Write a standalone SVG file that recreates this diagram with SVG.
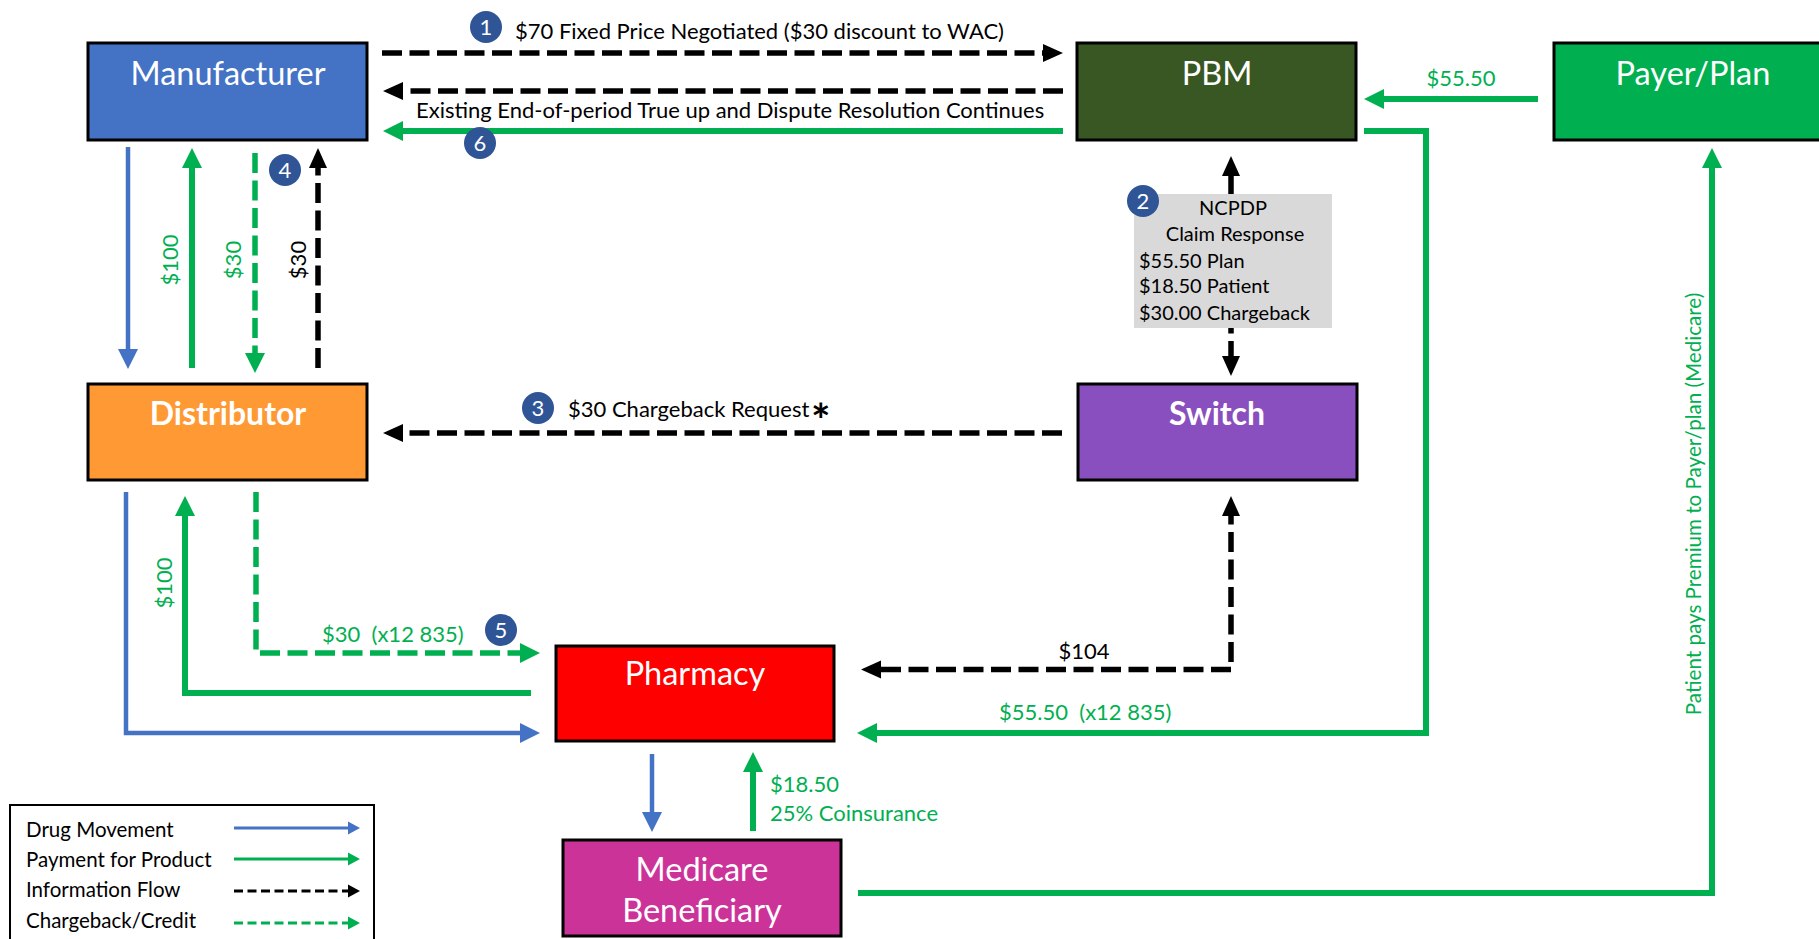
<svg xmlns="http://www.w3.org/2000/svg" width="1819" height="939" viewBox="0 0 1819 939">
<style>
text{font-family:Lato,"Liberation Sans",sans-serif}
.box{stroke:#000;stroke-width:3}
.bl{fill:#fff;font-size:32.5px;text-anchor:middle}
.blb{fill:#fff;font-size:32px;font-weight:bold;text-anchor:middle}
.lbl{font-size:22px;fill:#000}
.glbl{font-size:22px;fill:#00B050}
.gb{font-size:20px;fill:#000}
.lg{font-size:20.5px;fill:#000}
.bn{fill:#fff;font-size:22px;text-anchor:middle}
.badge{fill:#2F5597}
.k{fill:none;stroke:#000;stroke-width:5.5;stroke-dasharray:20 7.5;marker-end:url(#ahK)}
.g{fill:none;stroke:#00B050;stroke-width:6;marker-end:url(#ahG)}
.gd{fill:none;stroke:#00B050;stroke-width:5.5;stroke-dasharray:20 7.5;marker-end:url(#ahG)}
.b{fill:none;stroke:#4472C4;stroke-width:4.5;marker-end:url(#ahB)}
</style>
<defs>
<marker id="ahK" markerUnits="userSpaceOnUse" markerWidth="20" markerHeight="18" refX="0" refY="9" orient="auto-start-reverse" overflow="visible"><path d="M0,0 L20,9 L0,18 Z" fill="#000"/></marker>
<marker id="ahG" markerUnits="userSpaceOnUse" markerWidth="20" markerHeight="20" refX="0" refY="10" orient="auto" overflow="visible"><path d="M0,0 L20,10 L0,20 Z" fill="#00B050"/></marker>
<marker id="ahB" markerUnits="userSpaceOnUse" markerWidth="20" markerHeight="20" refX="0" refY="10" orient="auto" overflow="visible"><path d="M0,0 L20,10 L0,20 Z" fill="#4472C4"/></marker>
<marker id="lB" markerUnits="userSpaceOnUse" markerWidth="12" markerHeight="13" refX="0" refY="6.5" orient="auto" overflow="visible"><path d="M0,0 L12,6.5 L0,13 Z" fill="#4472C4"/></marker>
<marker id="lG" markerUnits="userSpaceOnUse" markerWidth="12" markerHeight="13" refX="0" refY="6.5" orient="auto" overflow="visible"><path d="M0,0 L12,6.5 L0,13 Z" fill="#00B050"/></marker>
<marker id="lK" markerUnits="userSpaceOnUse" markerWidth="12" markerHeight="13" refX="0" refY="6.5" orient="auto" overflow="visible"><path d="M0,0 L12,6.5 L0,13 Z" fill="#000"/></marker>
</defs>
<rect width="1819" height="939" fill="#fff"/>

<g id="connectors">
<path class="k" d="M382,53 H1043"/>
<path class="k" d="M1063,91 H403"/>
<path class="g" d="M1063,131 H403"/>
<path class="g" d="M1538,99 H1384"/>
<path class="g" d="M1364,131 H1426 V733 H877"/>
<path class="g" d="M858,893 H1712 V168"/>
<path class="k" d="M1231,176 V356" style="marker-start:url(#ahK)"/>
<path class="k" d="M1062,433 H403"/>
<path class="k" d="M881,669.5 H1231 V516" style="marker-start:url(#ahK)"/>
<path class="b" d="M128,147 V349"/>
<path class="g" d="M192,368 V168"/>
<path class="gd" d="M255,153 V353"/>
<path class="k" d="M318,368 V168"/>
<path class="b" d="M126,492 V733 H520"/>
<path class="g" d="M531,693 H185 V516"/>
<path class="gd" d="M256,492 V653 H520"/>
<path class="b" d="M652,754 V812"/>
<path class="g" d="M753,831 V772"/>
</g>

<g id="manufacturer">
<rect class="box" x="88" y="43" width="279" height="97" fill="#4472C4"/>
<text class="bl" x="228" y="85">Manufacturer</text>
</g>
<g id="pbm">
<rect class="box" x="1077" y="43" width="279" height="97" fill="#385723"/>
<text class="bl" x="1217" y="85">PBM</text>
</g>
<g id="payer">
<rect class="box" x="1554" y="43" width="279" height="97" fill="#00B050"/>
<text class="bl" x="1693" y="85">Payer/Plan</text>
</g>
<g id="distributor">
<rect class="box" x="88" y="384" width="279" height="96" fill="#FF9933"/>
<text class="blb" x="228" y="425">Distributor</text>
</g>
<g id="switch">
<rect class="box" x="1078" y="384" width="279" height="96" fill="#8A4FBE"/>
<text class="blb" x="1217" y="425">Switch</text>
</g>
<g id="pharmacy">
<rect class="box" x="556" y="646" width="278" height="95" fill="#FF0000"/>
<text class="bl" x="695" y="685">Pharmacy</text>
</g>
<g id="beneficiary">
<rect class="box" x="563" y="840" width="278" height="96" fill="#CC3399"/>
<text class="bl" x="702" y="881">Medicare</text>
<text class="bl" x="702" y="922">Beneficiary</text>
</g>
<g id="claim-response">
<rect x="1134" y="194" width="198" height="134" fill="#D9D9D9"/>
<text class="gb" x="1233" y="215" text-anchor="middle">NCPDP</text>
<text class="gb" x="1235" y="241" text-anchor="middle">Claim Response</text>
<text class="gb" x="1139" y="268">$55.50 Plan</text>
<text class="gb" x="1139" y="293">$18.50 Patient</text>
<text class="gb" x="1139" y="320">$30.00 Chargeback</text>
</g>

<g id="labels">
<text class="lbl" x="515" y="39">$70 Fixed Price Negotiated ($30 discount to WAC)</text>
<text class="lbl" x="416" y="118">Existing End-of-period True up and Dispute Resolution Continues</text>
<text class="glbl" x="1461" y="86" text-anchor="middle">$55.50</text>
<text class="glbl" x="999" y="720" xml:space="preserve">$55.50  (x12 835)</text>
<text class="lbl" x="1084" y="659" text-anchor="middle">$104</text>
<text class="lbl" x="568" y="417">$30 Chargeback Request</text>
<text x="811" y="437" style="font-size:46px;font-weight:bold;fill:#000">*</text>
<text class="glbl" x="322" y="642" xml:space="preserve">$30  (x12 835)</text>
<text class="glbl" x="770" y="792">$18.50</text>
<text class="glbl" x="770" y="821">25% Coinsurance</text>
<text class="glbl" transform="translate(178,260) rotate(-90)" text-anchor="middle">$100</text>
<text class="glbl" transform="translate(241,260) rotate(-90)" text-anchor="middle">$30</text>
<text class="lbl" transform="translate(306,260) rotate(-90)" text-anchor="middle">$30</text>
<text class="glbl" transform="translate(172,583) rotate(-90)" text-anchor="middle">$100</text>
<text class="glbl" transform="translate(1701,504) rotate(-90)" text-anchor="middle" style="font-size:20.6px">Patient pays Premium to Payer/plan (Medicare)</text>
</g>

<g id="badges">
<circle class="badge" cx="486" cy="27" r="16"/><text class="bn" x="486" y="35">1</text>
<circle class="badge" cx="1143" cy="201" r="16"/><text class="bn" x="1143" y="209">2</text>
<circle class="badge" cx="538" cy="408" r="16"/><text class="bn" x="538" y="416">3</text>
<circle class="badge" cx="285" cy="170" r="16"/><text class="bn" x="285" y="178">4</text>
<circle class="badge" cx="501" cy="630" r="16"/><text class="bn" x="501" y="638">5</text>
<circle class="badge" cx="480" cy="143" r="16"/><text class="bn" x="480" y="151">6</text>
</g>

<g id="legend">
<rect x="10" y="805" width="364" height="145" fill="#fff" stroke="#000" stroke-width="2"/>
<text class="lg" x="26" y="837">Drug Movement</text>
<text class="lg" x="26" y="867">Payment for Product</text>
<text class="lg" x="26" y="897">Information Flow</text>
<text class="lg" x="26" y="928">Chargeback/Credit</text>
<path d="M234,828 H348" fill="none" stroke="#4472C4" stroke-width="3" marker-end="url(#lB)"/>
<path d="M234,859 H348" fill="none" stroke="#00B050" stroke-width="3" marker-end="url(#lG)"/>
<path d="M234,891 H348" fill="none" stroke="#000" stroke-width="3" stroke-dasharray="9 4.5" marker-end="url(#lK)"/>
<path d="M234,923 H348" fill="none" stroke="#00B050" stroke-width="3" stroke-dasharray="9 4.5" marker-end="url(#lG)"/>
</g>
</svg>
